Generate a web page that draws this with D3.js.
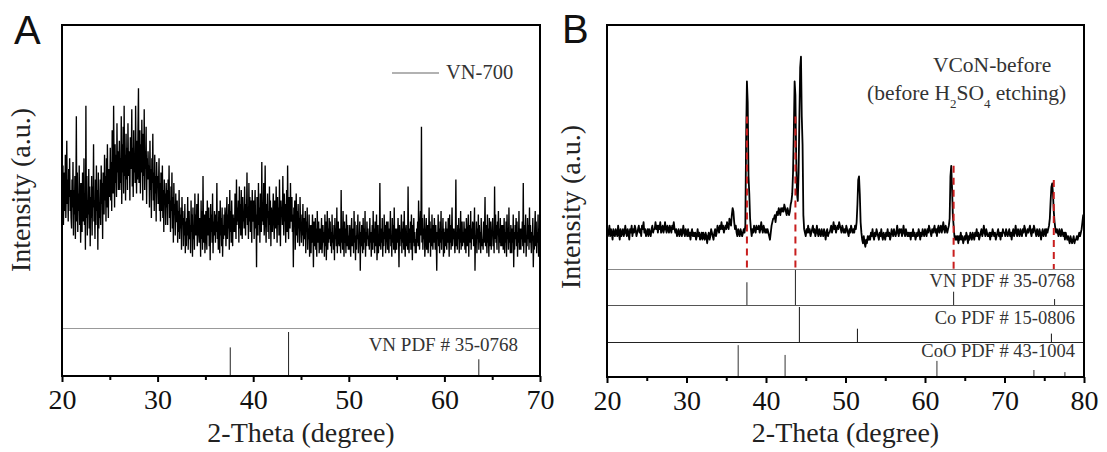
<!DOCTYPE html>
<html>
<head>
<meta charset="utf-8">
<script src="https://cdn.jsdelivr.net/npm/d3@7"></script>
<style>
  body { margin: 0; background: #fff; }
</style>
</head>
<body>
<svg id="chart" width="1107" height="452"></svg>
<script>
// both scans start at 20 degree; A is sampled every 0.05 degree, B every 0.1 degree
const thetaStart = 20
const thetaStepA = 0.05
const thetaStepB = 0.1

// panel A, VN-700 scan, 20.00 .. 70.00 (one row = one degree)
const vn700 = [
  55,46,60,43,52,58,47,63,45,54,67,49,56,44,59,51,62,47,53,45,
  42,56,48,61,40,53,46,57,39,50,74,44,58,41,52,47,60,43,55,38,
  47,55,41,58,49,44,62,43,52,36,77,45,57,40,50,46,59,42,54,37,
  51,45,57,40,54,48,66,44,50,39,56,43,60,47,53,36,58,42,49,45,
  56,43,60,49,55,39,58,52,46,63,50,57,44,62,48,66,53,45,59,51,
  54,65,50,61,47,70,56,52,77,59,48,66,55,63,51,72,58,64,53,60,
  67,53,62,55,74,49,66,58,71,52,77,57,63,50,69,56,65,53,72,59,
  57,64,50,68,59,62,76,54,65,51,70,58,63,55,77,60,52,67,56,71,
  82,55,63,70,52,66,58,73,61,50,69,57,76,53,64,59,71,49,62,56,
  64,56,60,48,67,53,59,45,62,55,69,50,58,47,63,52,57,44,61,54,
  57,49,54,62,47,55,44,58,51,47,60,45,53,41,56,49,52,43,55,48,
  53,43,56,49,60,45,50,41,54,47,58,42,51,38,55,46,49,40,52,44,
  44,50,38,47,41,53,39,46,42,48,36,51,43,47,37,45,40,49,35,44,
  37,45,40,51,36,44,47,39,43,35,50,41,46,34,48,39,43,36,52,40,
  46,40,49,37,44,52,41,38,45,43,34,50,39,47,36,57,42,38,46,35,
  39,47,42,36,50,44,40,48,37,45,33,49,41,46,38,52,35,44,40,47,
  43,38,46,41,55,39,44,36,47,42,35,50,40,45,37,48,34,43,39,46,
  40,48,44,37,45,51,39,46,42,49,36,53,41,47,38,50,43,37,46,41,
  45,41,52,47,39,56,43,48,44,50,38,54,42,49,40,53,46,39,51,44,
  47,42,54,46,40,49,45,58,43,48,39,55,44,51,41,50,46,38,53,45,
  44,50,39,47,53,42,46,31,51,45,40,55,43,48,38,52,46,41,61,44,
  48,43,55,40,46,60,44,38,49,45,52,41,47,39,54,43,50,37,48,44,
  41,47,52,44,39,50,46,42,54,45,38,51,43,48,40,56,44,37,50,46,
  48,43,57,46,40,52,44,49,38,47,53,41,60,45,39,51,46,42,55,44,
  45,51,41,46,31,48,43,50,36,44,52,40,47,38,49,42,45,37,51,43,
  42,38,46,40,49,37,43,45,39,47,35,44,41,48,36,42,39,46,34,43,
  40,35,43,38,46,41,31,44,39,37,45,36,42,34,47,40,38,44,35,41,
  42,36,40,45,35,39,43,38,41,34,46,37,44,33,40,47,36,42,38,45,
  39,44,37,41,35,46,38,40,36,43,33,45,39,42,37,48,35,41,44,38,
  37,42,39,35,53,38,41,36,47,39,34,44,38,42,35,46,40,37,43,36,
  40,36,43,38,34,41,45,37,39,42,35,47,38,44,33,40,36,43,39,46,
  35,40,38,44,30,41,37,43,39,35,45,36,42,38,47,34,41,37,44,39,
  42,37,40,36,45,38,41,34,39,43,36,47,38,42,35,44,40,37,46,33,
  38,43,35,40,37,55,39,36,42,38,45,34,41,37,46,39,43,35,40,44,
  41,36,44,38,35,42,39,47,37,40,34,45,38,43,36,48,39,35,42,37,
  36,42,38,45,40,31,43,37,41,39,46,35,42,38,44,36,47,39,34,41,
  43,37,40,36,54,39,35,42,38,44,36,46,40,33,43,38,45,37,41,35,
  39,35,42,38,44,37,50,41,36,43,47,40,71,38,45,36,42,39,46,34,
  37,41,45,36,39,43,35,40,48,38,44,34,42,37,46,39,36,43,38,45,
  40,36,43,38,30,41,39,46,37,42,35,44,38,47,36,41,39,45,34,42,
  35,41,37,44,39,36,42,38,45,40,34,46,38,43,36,41,48,37,42,39,
  42,38,35,40,56,37,41,36,43,39,45,35,42,38,47,36,40,44,37,41,
  38,44,40,36,42,35,45,39,37,41,46,34,43,38,40,47,36,42,39,44,
  43,37,41,48,30,40,38,44,35,42,39,46,36,43,38,41,35,45,40,37,
  39,36,44,38,41,51,37,43,40,35,46,38,42,34,45,39,37,44,36,41,
  41,45,37,40,35,54,39,46,38,43,36,44,40,47,35,42,38,45,37,43,
  37,40,43,36,39,45,35,41,38,44,34,46,39,42,36,48,38,41,35,43,
  40,35,42,38,46,31,41,36,43,39,45,37,44,34,41,38,47,36,42,39,
  36,42,39,44,37,55,35,43,38,41,46,34,40,37,45,39,43,36,48,38,
  43,38,35,41,39,45,31,40,36,42,47,37,44,35,41,38,46,34,42,39,
  40
]

// panel B, VCoN-before scan, 20.0 .. 80.0 (one row = one degree)
const vconBefore = [
  42,40,41,43,40,42,41,39,42,41,
  40,42,41,40,43,41,39,42,40,41,
  42,40,41,43,41,40,42,41,39,42,
  41,43,40,42,41,43,42,40,41,42,
  43,41,42,40,43,42,44,41,42,40,
  41,42,40,42,41,40,42,43,41,42,
  42,44,42,43,41,43,42,44,41,42,
  43,41,42,44,42,41,43,42,41,43,
  42,41,43,42,44,42,41,42,40,41,
  42,40,41,42,40,41,43,41,40,42,
  41,40,42,40,41,39,41,42,40,41,
  40,41,39,40,42,40,41,39,40,41,
  39,41,40,39,41,40,38,40,41,39,
  40,42,41,40,39,41,42,40,41,43,
  42,41,43,42,44,42,43,41,42,43,
  42,44,43,42,45,44,43,46,48,47,
  44,42,43,41,40,42,41,40,42,41,
  40,41,42,41,43,68,84,78,57,52,
  45,42,40,42,41,43,42,41,43,42,
  42,43,41,42,44,42,41,43,42,41,
  42,41,42,41,40,39,41,43,44,45,
  45,46,44,46,47,46,48,47,46,48,
  47,48,47,49,48,47,46,48,47,46,
  47,49,50,52,58,70,84,80,62,52,
  50,58,74,88,91,74,66,46,42,41,
  40,42,41,43,41,42,40,41,42,43,
  41,42,40,41,43,41,40,42,41,40,
  42,41,40,42,41,39,41,42,40,41,
  41,42,43,41,42,44,42,43,41,42,
  43,42,44,43,42,41,43,42,41,42,
  41,43,42,41,40,42,41,43,42,41,
  42,41,43,42,44,49,56,57,52,44,
  41,39,38,40,38,37,39,38,40,39,
  40,39,41,40,42,40,39,41,40,42,
  41,40,39,41,40,42,40,39,41,40,
  39,41,40,42,40,41,39,40,42,41,
  40,42,41,40,41,43,41,40,42,41,
  42,40,41,43,41,40,42,41,40,41,
  40,41,39,41,40,42,40,41,39,40,
  41,40,42,41,39,41,40,42,41,40,
  42,41,40,42,41,43,42,41,40,42,
  41,42,43,41,42,40,42,43,41,42,
  43,41,42,44,42,41,43,42,41,42,
  43,45,57,60,54,46,43,40,39,40,
  39,40,38,40,39,41,39,40,38,39,
  40,39,41,40,38,40,39,41,40,39,
  41,40,39,41,40,42,40,41,39,40,
  41,42,40,41,43,41,40,42,41,40,
  40,41,39,41,40,42,41,40,41,39,
  40,41,42,40,41,39,41,40,42,41,
  41,40,42,41,40,41,42,40,41,39,
  41,42,40,41,43,41,40,42,41,40,
  42,41,40,42,41,43,42,40,41,42,
  41,42,43,41,40,42,41,43,42,41,
  40,42,41,40,42,41,39,41,42,40,
  41,42,40,42,41,42,43,45,50,54,
  55,52,47,44,42,41,42,41,40,42,
  41,40,42,41,40,41,39,41,40,39,
  40,39,38,40,39,38,39,40,38,39,
  39,40,39,40,41,40,41,42,44,46,
  46
]

// reference patterns (2-theta, relative intensity)
const vnPdfTheta = [37.6, 43.7, 63.6, 76.3]
const vnPdfInt = [65, 100, 38, 17]
const coPdfTheta = [44.2, 51.5, 75.9]
const coPdfInt = [100, 38, 24]
const cooPdfTheta = [36.5, 42.4, 61.5, 73.7, 77.6]
const cooPdfInt = [91, 63, 46, 20, 14]

// red guide lines in B: VN peak positions and the intensity they start from
const guideTheta = [37.6, 43.7, 63.6, 76.2]
const guideTop = [74, 74, 60, 56]

const majorA = [20, 30, 40, 50, 60, 70]
const minorA = [25, 35, 45, 55, 65]
const majorB = [20, 30, 40, 50, 60, 70, 80]
const minorB = [25, 35, 45, 55, 65, 75]

const serif = "'Liberation Serif','Times New Roman',serif"
const svg = d3.select("#chart")

function bottomAxis(x, y0, major, minor){
  let gMaj = svg.append("g")
    .attr("transform", "translate(0," + y0 + ")")
    .call(d3.axisBottom(x).tickValues(major).tickSize(6).tickFormat(d3.format("d")))
  gMaj.select(".domain").remove()
  gMaj.selectAll("line").attr("stroke", "#000").attr("stroke-width", 2)
  gMaj.selectAll("text")
    .attr("dy", null)
    .attr("y", 33)
    .style("font-family", serif)
    .style("font-size", "28px")
    .attr("fill", "#111")

  let gMin = svg.append("g")
    .attr("transform", "translate(0," + y0 + ")")
    .call(d3.axisBottom(x).tickValues(minor).tickSize(4).tickFormat(""))
  gMin.select(".domain").remove()
  gMin.selectAll("line").attr("stroke", "#000").attr("stroke-width", 2)
}

function yTitle(xPos, yPos){
  svg.append("text")
    .attr("transform", "translate(" + xPos + "," + yPos + ") rotate(-90)")
    .attr("text-anchor", "middle")
    .style("font-family", serif)
    .style("font-size", "28px")
    .attr("fill", "#222")
    .text("Intensity (a.u.)")
}

function xTitle(xPos){
  svg.append("text")
    .attr("x", xPos)
    .attr("y", 442)
    .attr("text-anchor", "middle")
    .style("font-family", serif)
    .style("font-size", "28px")
    .attr("fill", "#222")
    .text("2-Theta (degree)")
}

function sticks(x, rowBottom, rowHeight, thetas, ints, color){
  let h = d3.scaleLinear().domain([0, 100]).range([rowBottom, rowBottom - rowHeight])
  svg.append("g").selectAll("line")
    .data(thetas).enter()
    .append("line")
      .attr("x1", d => x(d))
      .attr("x2", d => x(d))
      .attr("y1", rowBottom)
      .attr("y2", (d, i) => h(ints[i]))
      .attr("stroke", color)
      .attr("stroke-width", 1)
}

function label(xPos, yPos, size, txt){
  svg.append("text")
    .attr("x", xPos)
    .attr("y", yPos)
    .attr("text-anchor", "end")
    .style("font-family", serif)
    .style("font-size", size + "px")
    .attr("fill", "#333")
    .text(txt)
}

// ---------------- panel A ----------------
let xA = d3.scaleLinear().domain([20, 70]).range([62, 540])
let yA = d3.scaleLinear().domain([0, 100]).range([376, 25])

svg.append("path")
  .datum(vn700)
  .attr("fill", "none")
  .attr("stroke", "#000")
  .attr("stroke-width", 1.35)
  .attr("d", d3.line()
    .x((d, i) => xA(thetaStart + i * thetaStepA))
    .y(d => yA(d)))

svg.append("line")
  .attr("x1", 62).attr("x2", 540)
  .attr("y1", 328.5).attr("y2", 328.5)
  .attr("stroke", "#999").attr("stroke-width", 1.2)

sticks(xA, 376, 44, vnPdfTheta.filter(t => t <= 70), vnPdfInt, "#222")
label(518, 351, 19, "VN PDF # 35-0768")

// legend
svg.append("line")
  .attr("x1", 392).attr("x2", 439)
  .attr("y1", 73).attr("y2", 73)
  .attr("stroke", "#666").attr("stroke-width", 1.2)
svg.append("text")
  .attr("x", 446).attr("y", 79)
  .style("font-family", serif)
  .style("font-size", "20.5px")
  .attr("fill", "#333")
  .text("VN-700")

svg.append("rect")
  .attr("x", 62).attr("y", 25)
  .attr("width", 478).attr("height", 351)
  .attr("fill", "none")
  .attr("stroke", "#000")
  .attr("stroke-width", 2)

bottomAxis(xA, 376, majorA, minorA)
yTitle(30, 190)
xTitle(301)

svg.append("text")
  .attr("x", 14).attr("y", 44)
  .style("font-family", "'Liberation Sans',Arial,sans-serif")
  .style("font-size", "40px")
  .attr("fill", "#111")
  .text("A")

// ---------------- panel B ----------------
let xB = d3.scaleLinear().domain([20, 80]).range([607, 1084])
let yB = d3.scaleLinear().domain([0, 100]).range([377, 25])

svg.append("path")
  .datum(vconBefore)
  .attr("fill", "none")
  .attr("stroke", "#000")
  .attr("stroke-width", 1.8)
  .attr("stroke-linejoin", "round")
  .attr("d", d3.line()
    .x((d, i) => xB(thetaStart + i * thetaStepB))
    .y(d => yB(d)))

// row separators
let rowLines = [269, 305, 342]
let rowColors = ["#888", "#555", "#222"]
svg.append("g").selectAll("line")
  .data(rowLines).enter()
  .append("line")
    .attr("x1", 607).attr("x2", 1084)
    .attr("y1", d => d + 0.5).attr("y2", d => d + 0.5)
    .attr("stroke", (d, i) => rowColors[i])
    .attr("stroke-width", 1.2)

sticks(xB, 305, 35, vnPdfTheta, vnPdfInt, "#222")
sticks(xB, 342, 35, coPdfTheta, coPdfInt, "#111")
sticks(xB, 377, 35, cooPdfTheta, cooPdfInt, "#333")

label(1075, 287, 18.5, "VN PDF # 35-0768")
label(1075, 324, 18.5, "Co PDF # 15-0806")
label(1075, 357, 18.5, "CoO PDF # 43-1004")

// red dashed guides
svg.append("g").selectAll("line")
  .data(guideTheta).enter()
  .append("line")
    .attr("x1", d => xB(d))
    .attr("x2", d => xB(d))
    .attr("y1", (d, i) => yB(guideTop[i]))
    .attr("y2", 269)
    .attr("stroke", "#c81e1e")
    .attr("stroke-width", 2)
    .attr("stroke-dasharray", "7,5")

// sample annotation
svg.append("text")
  .attr("x", 933).attr("y", 72)
  .style("font-family", serif)
  .style("font-size", "21.5px")
  .attr("fill", "#333")
  .text("VCoN-before")

let note = svg.append("text")
  .attr("x", 867).attr("y", 100)
  .style("font-family", serif)
  .style("font-size", "21.5px")
  .attr("fill", "#333")
note.append("tspan").text("(before H")
note.append("tspan").attr("dy", 8).style("font-size", "13px").text("2")
note.append("tspan").attr("dy", -8).text("SO")
note.append("tspan").attr("dy", 8).style("font-size", "13px").text("4")
note.append("tspan").attr("dy", -8).text(" etching)")

svg.append("rect")
  .attr("x", 607).attr("y", 25)
  .attr("width", 477).attr("height", 352)
  .attr("fill", "none")
  .attr("stroke", "#000")
  .attr("stroke-width", 2)

bottomAxis(xB, 377, majorB, minorB)
yTitle(580, 207)
xTitle(845.5)

svg.append("text")
  .attr("x", 562).attr("y", 43)
  .style("font-family", "'Liberation Sans',Arial,sans-serif")
  .style("font-size", "40px")
  .attr("fill", "#111")
  .text("B")
</script>
</body>
</html>
